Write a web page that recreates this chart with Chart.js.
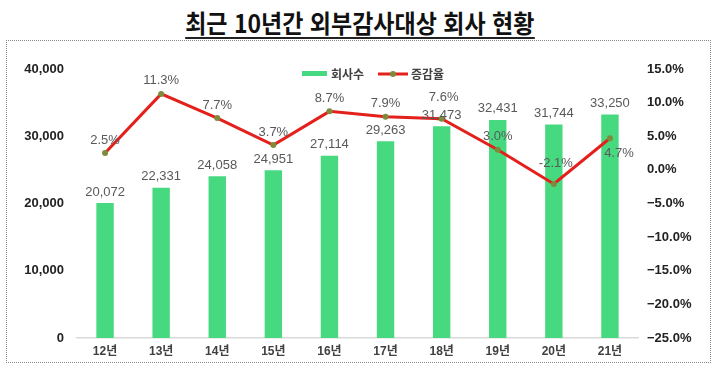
<!DOCTYPE html>
<html lang="ko">
<head>
  <meta charset="UTF-8">
  <title>최근 10년간 외부감사대상 회사 현황</title>
  <script src="https://cdn.jsdelivr.net/npm/chart.js"></script>
  <style>
    body { margin: 0; width: 720px; height: 374px; background: #fff; position: relative; overflow: hidden; }
    #title {
      position: absolute; top: 4px; left: 0; width: 720px; text-align: center;
      font-family: 'Noto Sans CJK KR', sans-serif; font-weight: 700; font-size: 25px; color: #111;
    }
    #title span { display: inline-block; border-bottom: 2px solid #222; line-height: 30px; transform: scaleX(0.92); }
    #box {
      position: absolute; left: 6px; top: 40px; width: 705px; height: 323px;
      box-sizing: border-box; border: 1px dotted #888;
    }
    #wrap { position: relative; width: 703px; height: 321px; }
  </style>
</head>
<body>
  <div id="title"><span>최근 10년간 외부감사대상 회사 현황</span></div>
  <div id="box"><div id="wrap"><canvas id="chart"></canvas></div></div>

  <script>
    const years = ['12년', '13년', '14년', '15년', '16년', '17년', '18년', '19년', '20년', '21년'];
    const companies = [20072, 22331, 24058, 24951, 27114, 29263, 31473, 32431, 31744, 33250];
    const rates = [2.5, 11.3, 7.7, 3.7, 8.7, 7.9, 7.6, 3.0, -2.1, 4.7];
    // where each rate label sits relative to its point
    const rateLabelPlace = ['top', 'top', 'top', 'top', 'top', 'top', 'high', 'top', 'high', 'bottom'];

    const green = '#47D97F';
    const red = '#E3201B';
    const olive = '#7E8A3C';
    const labelFont = "13px 'Liberation Sans', 'Noto Sans CJK KR', sans-serif";

    const fmtPct = v => (v < 0 ? '\u2212' + Math.abs(v).toFixed(1) : v.toFixed(1)) + '%';

    const labelsPlugin = {
      id: 'valueLabels',
      afterDatasetsDraw(chart) {
        const ctx = chart.ctx;
        ctx.save();
        ctx.font = labelFont;
        ctx.fillStyle = '#595959';
        ctx.textAlign = 'center';
        ctx.textBaseline = 'middle';

        const barMeta = chart.getDatasetMeta(1);
        barMeta.data.forEach((bar, i) => {
          ctx.fillText(companies[i].toLocaleString('en-US'), bar.x, bar.y - 11);
        });

        const lineMeta = chart.getDatasetMeta(0);
        lineMeta.data.forEach((pt, i) => {
          let dx = 0, dy = -13;
          if (rateLabelPlace[i] === 'high') { dx = 2; dy = -21; }
          if (rateLabelPlace[i] === 'bottom') { dx = 9; dy = 15; }
          ctx.fillText(rates[i].toFixed(1) + '%', pt.x + dx, pt.y + dy);
        });
        ctx.restore();
      },
      afterDraw(chart) {
        // legend drawn inside the plot area like the original
        const ctx = chart.ctx;
        const y = chart.chartArea.top + 4;
        const x0 = 295;
        ctx.save();
        ctx.fillStyle = green;
        ctx.fillRect(x0, y - 2, 25, 5);
        ctx.font = "bold 12px 'Noto Sans CJK KR', sans-serif";
        ctx.fillStyle = '#404040';
        ctx.textBaseline = 'middle';
        ctx.textAlign = 'left';
        ctx.fillText('회사수', x0 + 29, y + 1);
        const lx = x0 + 76;
        ctx.strokeStyle = red;
        ctx.lineWidth = 3;
        ctx.beginPath();
        ctx.moveTo(lx, y + 1);
        ctx.lineTo(lx + 30, y + 1);
        ctx.stroke();
        ctx.fillStyle = olive;
        ctx.beginPath();
        ctx.arc(lx + 15, y + 1, 3, 0, Math.PI * 2);
        ctx.fill();
        ctx.fillStyle = '#404040';
        ctx.fillText('증감율', lx + 33, y + 1);
        ctx.restore();
      }
    };

    new Chart(document.getElementById('chart'), {
      type: 'bar',
      data: {
        labels: years,
        datasets: [
          {
            type: 'line',
            label: '증감율',
            data: rates,
            yAxisID: 'y2',
            borderColor: red,
            borderWidth: 3,
            pointRadius: 3,
            pointBorderWidth: 0,
            pointBackgroundColor: olive,
            pointBorderColor: olive,
            tension: 0,
            order: 0
          },
          {
            label: '회사수',
            data: companies,
            yAxisID: 'y',
            backgroundColor: green,
            categoryPercentage: 1,
            barPercentage: 0.31,
            order: 1
          }
        ]
      },
      options: {
        responsive: true,
        maintainAspectRatio: false,
        animation: false,
        layout: { padding: { top: 28, left: 0, right: 0, bottom: 0 } },
        plugins: {
          legend: { display: false },
          tooltip: { enabled: false }
        },
        scales: {
          x: {
            grid: { display: false, drawTicks: false },
            border: { color: '#D9D9D9', width: 1.5 },
            ticks: {
              padding: 6,
              color: '#404040',
              font: { family: "'Liberation Sans', 'Noto Sans CJK KR', sans-serif", size: 12, weight: 'bold' }
            },
            afterFit(scale) { scale.height = 24; }
          },
          y: {
            position: 'left',
            min: 0,
            max: 40000,
            grid: { display: false, drawTicks: false },
            border: { display: false },
            ticks: {
              stepSize: 10000,
              padding: 13,
              color: '#222',
              font: { family: "'Liberation Sans', sans-serif", size: 13, weight: 'bold' },
              callback: v => v.toLocaleString('en-US')
            },
            afterFit(scale) { scale.width = 70; }
          },
          y2: {
            position: 'right',
            min: -25,
            max: 15,
            grid: { display: false, drawTicks: false },
            border: { display: false },
            ticks: {
              stepSize: 5,
              padding: 9,
              color: '#222',
              font: { family: "'Liberation Sans', sans-serif", size: 13, weight: 'bold' },
              callback: v => fmtPct(v)
            },
            afterFit(scale) { scale.width = 72; }
          }
        }
      },
      plugins: [labelsPlugin]
    });
  </script>
</body>
</html>
